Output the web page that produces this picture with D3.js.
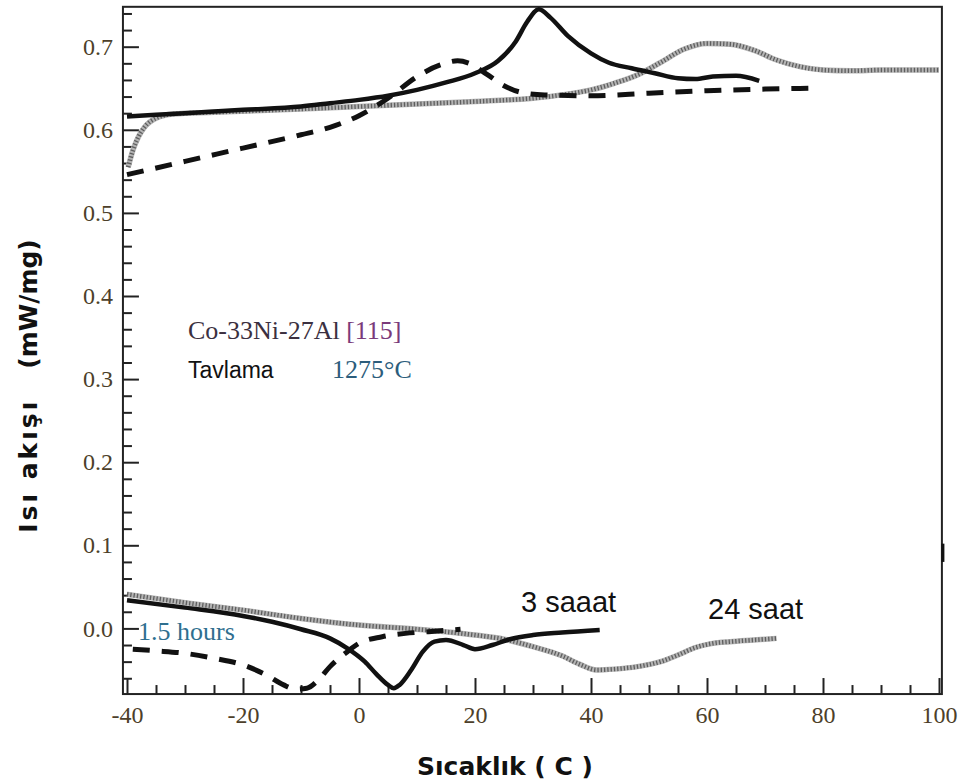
<!DOCTYPE html>
<html>
<head>
<meta charset="utf-8">
<script src="https://cdn.jsdelivr.net/npm/d3@7"></script>
<style>
  body { margin: 0; background: #fff; }
  svg { display: block; }
</style>
</head>
<body>
<div id="canvas"></div>
<script>
const w = 959;
const h = 784;

// x (temperature) major / minor ticks, y (heat flow) major / minor ticks
const xMajor = [-40, -20, 0, 20, 40, 60, 80, 100];
const xMinor = [-35, -30, -25, -15, -10, -5, 5, 10, 15, 25, 30, 35, 45, 50, 55, 65, 70, 75, 85, 90, 95];
const yMajor = [0.0, 0.1, 0.2, 0.3, 0.4, 0.5, 0.6, 0.7];
const yMinor = [-0.06, -0.04, -0.02, 0.02, 0.04, 0.06, 0.08, 0.12, 0.14, 0.16, 0.18, 0.22, 0.24, 0.26, 0.28,
  0.32, 0.34, 0.36, 0.38, 0.42, 0.44, 0.46, 0.48, 0.52, 0.54, 0.56, 0.58, 0.62, 0.64, 0.66, 0.68, 0.72, 0.74];

// 3 saaat (solid) - heating and cooling
const solidHeatT = [-40, -30, -20, -10, -5, 0, 5, 10, 15, 20, 24, 27, 29, 31, 33, 36, 40, 43, 47, 51, 55, 58, 61, 65, 69];
const solidHeatQ = [0.616, 0.620, 0.624, 0.628, 0.632, 0.636, 0.641, 0.648, 0.657, 0.668, 0.683, 0.706, 0.730, 0.745, 0.735, 0.713, 0.692, 0.681, 0.674, 0.668, 0.662, 0.661, 0.664, 0.665, 0.659];
const solidCoolT = [-40, -30, -20, -15, -10, -5, -2, 1, 3, 5, 6, 7, 9, 11, 13, 15, 18, 20, 23, 26, 30, 35, 41.5];
const solidCoolQ = [0.034, 0.025, 0.015, 0.008, -0.001, -0.012, -0.024, -0.040, -0.055, -0.068, -0.072, -0.068, -0.050, -0.028, -0.016, -0.014, -0.020, -0.025, -0.020, -0.013, -0.008, -0.005, -0.002];

// 1.5 hours (dashed)
const dashHeatT = [-40, -30, -20, -10, -5, 0, 5, 10, 14, 17, 19, 22, 25, 28, 32, 40, 50, 60, 70, 78];
const dashHeatQ = [0.546, 0.562, 0.578, 0.594, 0.603, 0.617, 0.638, 0.664, 0.678, 0.683, 0.680, 0.667, 0.653, 0.645, 0.642, 0.641, 0.644, 0.647, 0.649, 0.650];
const dashCoolT = [-39, -35, -30, -25, -20, -16, -13, -11, -9, -7, -5, -2, 0, 4, 8, 12, 17.5];
const dashCoolQ = [-0.025, -0.027, -0.030, -0.036, -0.044, -0.056, -0.068, -0.073, -0.072, -0.062, -0.046, -0.028, -0.018, -0.010, -0.006, -0.004, -0.001];

// 24 saat (grey hatched)
const greyHeatT = [-39.8, -39, -38, -37, -35, -32, -25, -10, 0, 10, 20, 30, 35, 40, 44, 48, 52, 56, 60, 64, 68, 72, 76, 80, 85, 90, 95, 100];
const greyHeatQ = [0.555, 0.575, 0.592, 0.603, 0.614, 0.619, 0.621, 0.625, 0.628, 0.631, 0.634, 0.638, 0.642, 0.648, 0.656, 0.666, 0.681, 0.697, 0.704, 0.703, 0.696, 0.684, 0.676, 0.672, 0.671, 0.672, 0.672, 0.672];
const greyCoolT = [-40, -30, -20, -10, 0, 10, 20, 25, 30, 35, 38, 41, 44, 48, 52, 55, 58, 61, 64, 68, 72];
const greyCoolQ = [0.041, 0.031, 0.022, 0.012, 0.004, -0.001, -0.008, -0.013, -0.022, -0.033, -0.043, -0.050, -0.049, -0.046, -0.040, -0.032, -0.023, -0.018, -0.016, -0.014, -0.012];

// frame limits in data units
const xLo = -40.7, xHi = 100.5;
const yLo = -0.079, yHi = 0.748;

let x = d3.scaleLinear().domain([-40, 100]).range([127, 939]);
let y = d3.scaleLinear().domain([0, 0.7]).range([628.4, 46.7]);

let svg = d3.select("#canvas").append("svg").attr("width", w).attr("height", h);

const tickColor = "#4d3f2a";
const serif = "'Liberation Serif', 'Times New Roman', serif";
const sans = "'Liberation Sans', Arial, sans-serif";

// frame
svg.append("rect")
  .attr("x", x(xLo)).attr("y", y(yHi))
  .attr("width", x(xHi) - x(xLo)).attr("height", y(yLo) - y(yHi))
  .attr("fill", "none").attr("stroke", "#222").attr("stroke-width", 2);

// small thick mark on the right border
svg.append("line")
  .attr("x1", x(xHi) + 1).attr("x2", x(xHi) + 1)
  .attr("y1", y(0.102)).attr("y2", y(0.080))
  .attr("stroke", "#111").attr("stroke-width", 3);

function styleAxis(g) {
  g.select(".domain").remove();
  g.selectAll(".tick line").attr("stroke", "#222").attr("stroke-width", 2);
  g.selectAll(".tick text").attr("fill", tickColor)
    .style("font-family", serif).style("font-size", "24px");
}

// bottom axis (plain hyphen for negatives, like the original)
svg.append("g").attr("transform", "translate(0," + y(yLo) + ")")
  .call(d3.axisBottom(x).tickValues(xMajor).tickSize(-16).tickPadding(12).tickFormat((d) => String(d)))
  .call(styleAxis);
svg.append("g").attr("transform", "translate(0," + y(yLo) + ")")
  .call(d3.axisBottom(x).tickValues(xMinor).tickSize(-9).tickFormat(""))
  .call(styleAxis);

// left axis
svg.append("g").attr("transform", "translate(" + x(xLo) + ",0)")
  .call(d3.axisLeft(y).tickValues(yMajor).tickSize(-16).tickPadding(10).tickFormat((d) => d.toFixed(1)))
  .call(styleAxis);
svg.append("g").attr("transform", "translate(" + x(xLo) + ",0)")
  .call(d3.axisLeft(y).tickValues(yMinor).tickSize(-9).tickFormat(""))
  .call(styleAxis);

let line = d3.line()
  .x((d) => x(d[0]))
  .y((d) => y(d[1]))
  .curve(d3.curveMonotoneX);

// grey hatched curves: light base with dark short dashes on top
[[greyHeatT, greyHeatQ], [greyCoolT, greyCoolQ]].forEach(function(s) {
  let pts = d3.zip(s[0], s[1]);
  svg.append("path").attr("d", line(pts))
    .attr("fill", "none").attr("stroke", "#b4b4b4").attr("stroke-width", 5.5);
  svg.append("path").attr("d", line(pts))
    .attr("fill", "none").attr("stroke", "#5e5e5e").attr("stroke-width", 4.5)
    .attr("stroke-dasharray", "1.3,2.0");
});

// dashed curves
[[dashHeatT, dashHeatQ], [dashCoolT, dashCoolQ]].forEach(function(s) {
  svg.append("path").attr("d", line(d3.zip(s[0], s[1])))
    .attr("fill", "none").attr("stroke", "#111").attr("stroke-width", 5)
    .attr("stroke-dasharray", "17,12");
});

// solid curves
[[solidHeatT, solidHeatQ], [solidCoolT, solidCoolQ]].forEach(function(s) {
  svg.append("path").attr("d", line(d3.zip(s[0], s[1])))
    .attr("fill", "none").attr("stroke", "#111").attr("stroke-width", 4.5)
    .attr("stroke-linejoin", "round");
});

// annotations
let comp = svg.append("text").attr("x", 188).attr("y", 339)
  .style("font-family", serif).style("font-size", "26px");
comp.append("tspan").attr("fill", "#3b3040").text("Co-33Ni-27Al ");
comp.append("tspan").attr("fill", "#7a3a7a").text("[115]");

svg.append("text").attr("x", 188).attr("y", 378)
  .style("font-family", sans).style("font-size", "23px").attr("fill", "#111")
  .text("Tavlama");
svg.append("text").attr("x", 332).attr("y", 378)
  .style("font-family", serif).style("font-size", "26px").attr("fill", "#2c5d7c")
  .text("1275°C");

svg.append("text").attr("x", 138).attr("y", 640)
  .style("font-family", serif).style("font-size", "26px").attr("fill", "#2f6f8f")
  .text("1.5 hours");
svg.append("text").attr("x", 521).attr("y", 612)
  .style("font-family", sans).style("font-size", "29px").attr("fill", "#111")
  .text("3 saaat");
svg.append("text").attr("x", 708).attr("y", 619)
  .style("font-family", sans).style("font-size", "29px").attr("fill", "#111")
  .text("24 saat");

// axis titles
svg.append("text").attr("x", 505).attr("y", 775)
  .attr("text-anchor", "middle")
  .style("font-family", "'DejaVu Sans', sans-serif").style("font-weight", "bold").style("font-size", "25px")
  .attr("fill", "#111")
  .text("Sıcaklık ( C )");

let ylab = svg.append("text").attr("transform", "translate(37,386) rotate(-90)")
  .attr("text-anchor", "middle")
  .style("font-family", "'DejaVu Sans', sans-serif").style("font-weight", "bold").style("font-size", "25px")
  .attr("fill", "#111");
ylab.append("tspan").style("letter-spacing", "3px").text("Isı akışı");
ylab.append("tspan").attr("dx", 30).text("(mW/mg)");
</script>
</body>
</html>
